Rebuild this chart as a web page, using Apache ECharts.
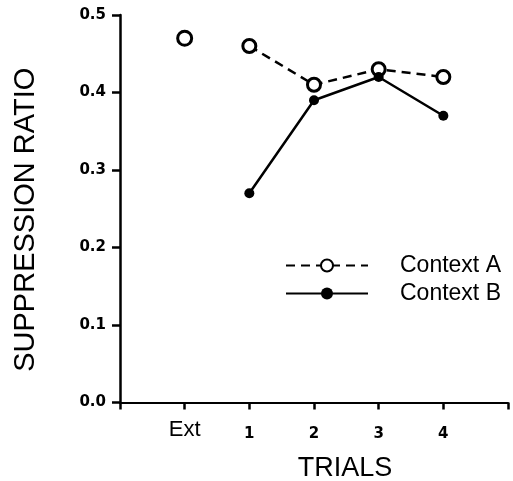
<!DOCTYPE html>
<html>
<head>
<meta charset="utf-8">
<script src="https://cdn.jsdelivr.net/npm/echarts@6/dist/echarts.min.js"></script>
<style>html,body{margin:0;padding:0;background:#fff;}#c{width:513px;height:481px;}</style>
</head>
<body>
<div id="c"></div>
<script>
// Tick labels along the x axis (positions 1..5); 0 and 6 are unlabeled ends
var trialLabels = ['Ext', '1', '2', '3', '4'];
// Context A: extinction point (separate) and test trials 1-4
var contextAExt = [0.47];
var contextA = [0.46, 0.41, 0.43, 0.42];
// Context B: test trials 1-4
var contextB = [0.27, 0.39, 0.42, 0.37];

function toPairs(vals, startPos) {
  return vals.map(function (v, i) { return [startPos + i, v]; });
}

var chart = echarts.init(document.getElementById('c'), null, {renderer: 'canvas'});

chart.setOption({
  animation: false,
  backgroundColor: '#fff',
  grid: {left: 120, right: 5, top: 15, bottom: 78.5, containLabel: false, outerBoundsMode: 'none'},
  xAxis: {
    type: 'value', min: 0, max: 6, interval: 1,
    name: 'TRIALS', nameLocation: 'middle', nameGap: 53,
    nameTextStyle: {fontFamily: 'Liberation Sans', fontSize: 27, color: '#000', padding: [0, 0, 0, 62]},
    axisLine: {show: true, onZero: false, lineStyle: {color: '#000', width: 2}},
    axisTick: {show: true, inside: false, length: 7, lineStyle: {color: '#000', width: 2.5}},
    splitLine: {show: false},
    axisLabel: {
      margin: 15,
      formatter: function (v) {
        var idx = Math.round(v) - 1;
        if (idx < 0 || idx >= trialLabels.length) return '';
        return idx === 0 ? '{e|' + trialLabels[idx] + '}' : '{n|' + trialLabels[idx] + '}';
      },
      rich: {
        e: {fontFamily: 'Liberation Sans', fontSize: 22, color: '#000', lineHeight: 26, verticalAlign: 'bottom', padding: [0, 0, 3, 0]},
        n: {fontFamily: 'DejaVu Sans', fontWeight: 'bold', fontSize: 15, color: '#000', lineHeight: 26, verticalAlign: 'bottom', padding: [0, 0, 2, 0]}
      }
    }
  },
  yAxis: {
    type: 'value', min: 0, max: 0.5, interval: 0.1,
    name: 'SUPPRESSION RATIO', nameLocation: 'middle', nameGap: 80,
    nameTextStyle: {fontFamily: 'Liberation Sans', fontSize: 29, color: '#000', padding: [0, 22, 0, 0]},
    axisLine: {show: true, onZero: false, lineStyle: {color: '#000', width: 2.5}},
    axisTick: {show: true, inside: false, length: 8, lineStyle: {color: '#000', width: 2.5}},
    splitLine: {show: false},
    axisLabel: {margin: 14, fontFamily: 'DejaVu Sans', fontWeight: 'bold', fontSize: 15, color: '#000',
      formatter: function (v) { return v.toFixed(1); }}
  },
  legend: {
    orient: 'vertical', left: 280, top: 249,
    itemWidth: 82, itemHeight: 15, itemGap: 5,
    data: ['Context A', 'Context B'],
    textStyle: {fontFamily: 'Liberation Sans', fontSize: 23, color: '#000', padding: [0, 0, 0, 27]},
    selectedMode: false
  },
  series: [
    {
      name: 'Context A', type: 'line', data: toPairs(contextA, 2),
      symbol: 'circle', symbolSize: 13,
      lineStyle: {color: '#000', width: 2.5, type: [9, 6]},
      itemStyle: {color: '#fff', borderColor: '#000', borderWidth: 3},
      z: 2
    },
    {
      name: 'Context A', type: 'line', data: toPairs(contextAExt, 1),
      symbol: 'circle', symbolSize: 14,
      lineStyle: {color: '#000', width: 2.5, type: [9, 6]},
      itemStyle: {color: '#fff', borderColor: '#000', borderWidth: 3},
      z: 2
    },
    {
      name: 'Context B', type: 'line', data: toPairs(contextB, 2),
      symbol: 'circle', symbolSize: 10,
      lineStyle: {color: '#000', width: 2.5, type: 'solid'},
      itemStyle: {color: '#000', borderColor: '#000', borderWidth: 0},
      z: 3
    }
  ]
});
</script>
</body>
</html>
